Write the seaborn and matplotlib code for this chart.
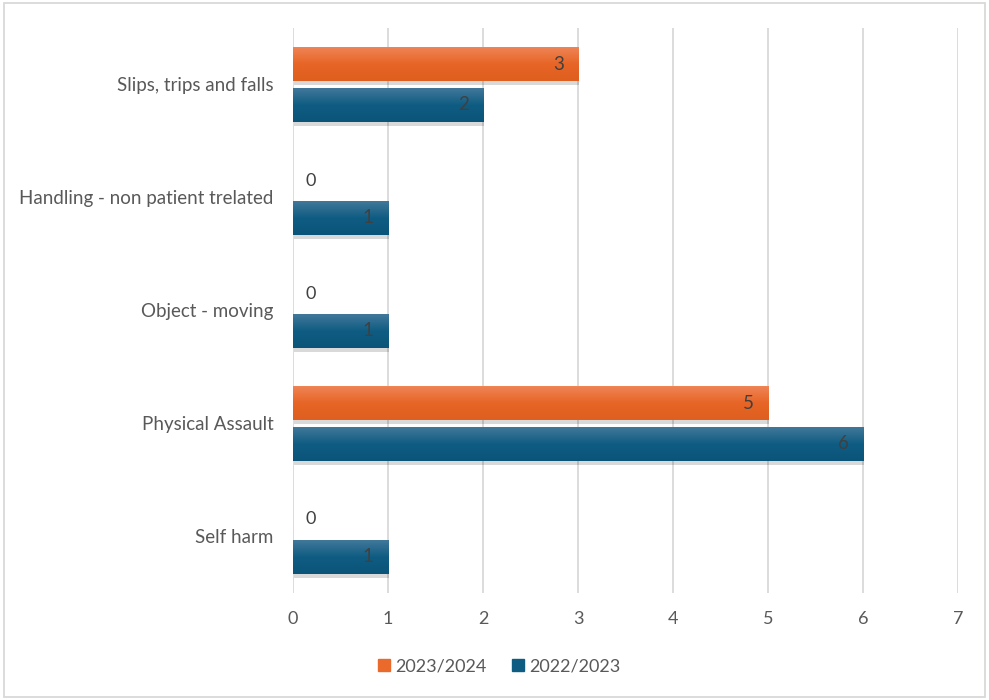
import matplotlib
matplotlib.use("Agg")
import matplotlib.pyplot as plt
import matplotlib.patheffects as pe
from matplotlib.patches import Rectangle
from matplotlib.colors import LinearSegmentedColormap
import seaborn as sns
import pandas as pd
import numpy as np

categories = ["Slips, trips and falls", "Handling - non patient trelated",
              "Object - moving", "Physical Assault", "Self harm"]
series_names = ["2023/2024", "2022/2023"]
values_2023_2024 = [3, 0, 0, 5, 0]
values_2022_2023 = [2, 1, 1, 6, 1]
x_ticks = [0, 1, 2, 3, 4, 5, 6, 7]

colors = {"2023/2024": "#E96A2A", "2022/2023": "#0F5C82"}
gradients = {
    "2023/2024": ("#EF8455", "#E76526", "#DE5F1F"),
    "2022/2023": ("#41789A", "#0F5C82", "#0B5479"),
}

df = pd.DataFrame({
    "category": categories * 2,
    "series": [series_names[0]] * 5 + [series_names[1]] * 5,
    "value": values_2023_2024 + values_2022_2023,
})

sns.set_theme(style="white")
plt.rcParams["font.family"] = ["Lato", "DejaVu Sans"]

fig = plt.figure(figsize=(9.89, 7.0), dpi=100)
ax = fig.add_axes([0.2963, 0.153, 0.6724, 0.807])

sns.barplot(data=df, y="category", x="value", hue="series", order=categories,
            hue_order=series_names, palette=colors, orient="h", width=0.72,
            gap=0.17, ax=ax, legend=False, saturation=1)

shadow = [pe.SimplePatchShadow(offset=(1.0, -3.0), shadow_rgbFace="#000000", alpha=0.15),
          pe.Normal()]

ax.set_xlim(0, 7)
ax.set_ylim(4.5, -0.5)

# vertical shading inside each bar
for name, container in zip(series_names, ax.containers):
    cmap = LinearSegmentedColormap.from_list(name, gradients[name])
    grad = np.linspace(0, 1, 64).reshape(-1, 1)
    for bar in container:
        bar.set_edgecolor("none")
        bar.set_path_effects(shadow)
        w = bar.get_width()
        if w <= 0:
            continue
        y0 = bar.get_y()
        h = bar.get_height()
        im = ax.imshow(grad, cmap=cmap, aspect="auto", origin="upper",
                       extent=(0, w, y0 + h, y0), zorder=bar.get_zorder() + 0.1,
                       interpolation="bilinear")
        im.set_clip_path(bar)

ax.set_xlim(0, 7)
ax.set_ylim(4.5, -0.5)
ax.set_xticks(x_ticks)
ax.set_xticklabels([str(t) for t in x_ticks])
ax.grid(axis="x", color="#D9D9D9", linewidth=1.3)
ax.grid(axis="y", visible=False)
ax.set_axisbelow(True)
for s in ax.spines.values():
    s.set_visible(False)
ax.set_xlabel("")
ax.set_ylabel("")
ax.tick_params(axis="x", colors="#595959", labelsize=13, length=0, pad=13)
ax.tick_params(axis="y", colors="#595959", labelsize=13.5, length=0, pad=14)

# value labels
for container in ax.containers:
    for bar in container:
        v = bar.get_width()
        yc = bar.get_y() + bar.get_height() / 2
        if v == 0:
            ax.text(0.19, yc + 0.03, "0", ha="center", va="center", fontsize=13,
                    color="#404040", zorder=5)
        else:
            ax.text(v - 0.15, yc, f"{v:g}", ha="right", va="center",
                    fontsize=13.5, color="#404040", zorder=5)

handles = [Rectangle((0, 0), 1, 1, color=colors[s]) for s in series_names]
fig.legend(handles, series_names, loc="center", bbox_to_anchor=(0.505, 0.048),
           ncol=2, frameon=False, fontsize=13, handlelength=0.65,
           handleheight=0.65, handletextpad=0.3, columnspacing=1.4,
           labelcolor="#595959")

fig.patches.append(Rectangle((0.004, 0.004), 0.992, 0.992, transform=fig.transFigure,
                             fill=False, edgecolor="#D9D9D9", linewidth=1.3))

fig.savefig("out.png", dpi=100, facecolor="white")
